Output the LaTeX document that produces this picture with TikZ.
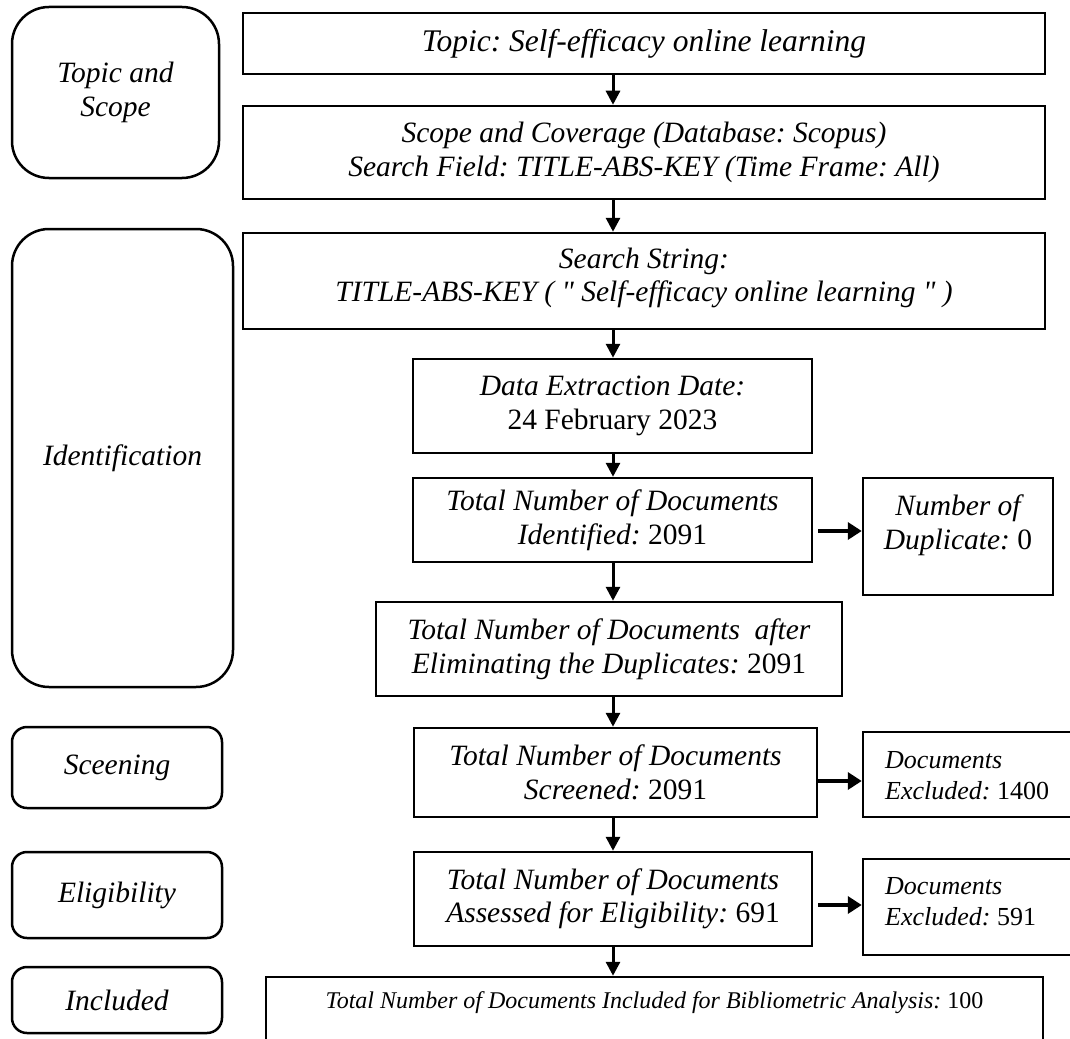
\documentclass[tikz,border=0pt]{standalone}
\usepackage{fontspec}
\setmainfont{Liberation Serif}[Ligatures=TeXOff]
\usetikzlibrary{arrows.meta}
\frenchspacing
\newcommand\myTop{\fontsize{31.5}{34}\selectfont\itshape}
\newcommand\myBig{\fontsize{29.5}{33.5}\selectfont\itshape}
\newcommand\myMid{\fontsize{26}{31}\selectfont\itshape}
\newcommand\mySmall{\fontsize{24}{28}\selectfont\itshape}
\newcommand\up[1]{{\upshape #1}}
\begin{document}
\begin{tikzpicture}[x=1pt,y=-1pt,
  box/.style={draw, line width=2.5pt, inner sep=0pt, align=center, font=\myBig},
  lbl/.style={draw, line width=2.5pt, rounded corners=15pt, inner sep=0pt, align=center, font=\myBig},
  bigcorner/.style={rounded corners=37pt},
  txt/.style={inner sep=0pt, align=center, font=\myBig},
  ltxt/.style={inner sep=0pt, align=left, anchor=west, font=\myMid},
  arr/.style={line width=3pt, -{Triangle[length=14pt,width=14pt]}},
  harr/.style={line width=4.5pt, -{Triangle[length=14pt,width=17pt]}}]
\useasboundingbox (0,0) rectangle (1070,1038);
\fill[white] (0,0) rectangle (1070,1038);
\clip (0,0) rectangle (1070,1038);

% left stage labels
\node[lbl, bigcorner, minimum width=207pt, minimum height=171pt] (L1) at (115.5,92.5) {Topic and\\Scope};
\node[lbl, bigcorner, minimum width=221pt, minimum height=458pt] (L2) at (122.5,458) {Identification};
\node[lbl, minimum width=210pt, minimum height=81pt] (L3) at (117,767.5) {Sceening};
\node[lbl, minimum width=210pt, minimum height=86pt] (L4) at (117,895) {Eligibility};
\node[lbl, minimum width=210pt, minimum height=66pt] (L5) at (117,1000) {Included};

% main flow
\node[box, font=\myTop, minimum width=802pt, minimum height=61pt] (topic) at (644,43.5) {Topic: Self-efficacy online learning};
\node[box, minimum width=802pt, minimum height=93pt] (scope) at (644,152.5) {Scope and Coverage (Database: Scopus)\\Search Field: TITLE-ABS-KEY (Time Frame: All)};
\node[box, minimum width=802pt, minimum height=96pt] (search) at (644,281) {};
\node[txt] (searchtxt) at (644,278) {Search String:\\TITLE-ABS-KEY ( " Self-efficacy online learning " )};
\node[box, minimum width=399pt, minimum height=94pt] (date) at (612.5,406) {Data Extraction Date:\\\up{24 February 2023}};
\node[box, minimum width=399pt, minimum height=84pt] (ident) at (612.5,520) {Total Number of Documents\\Identified: \up{2091}};
\node[box, minimum width=190pt, minimum height=117pt] (dup) at (958,536.5) {};
\node[txt] (duptxt) at (958,525) {Number of\\Duplicate: \up{0}};
\node[box, minimum width=466pt, minimum height=94pt] (after) at (609,649) {Total Number of Documents\ \ after\\Eliminating the Duplicates: \up{2091}};
\node[box, minimum width=403pt, minimum height=89pt] (screen) at (615.5,772.5) {Total Number of Documents\\Screened: \up{2091}};
\node[box, minimum width=217pt, minimum height=85pt] (ex1) at (971.5,774.5) {};
\node[ltxt] (ex1txt) at (885,776) {Documents\\Excluded: \up{1400}};
\node[box, minimum width=398pt, minimum height=94pt] (elig) at (613,899) {Total Number of Documents\\Assessed for Eligibility: \up{691}};
\node[box, minimum width=217pt, minimum height=96pt] (ex2) at (971.5,907) {};
\node[ltxt] (ex2txt) at (885,902) {Documents\\Excluded: \up{591}};
\node[box, minimum width=777pt, minimum height=93pt] (incl) at (654.5,1023.5) {};
\node[txt, font=\mySmall] (incltxt) at (654.5,1003) {Total Number of Documents Included for Bibliometric Analysis: \up{100}};

% connectors
\coordinate (ax) at (613,0);
\coordinate (h1) at (0,531);
\coordinate (h2) at (0,781);
\coordinate (h3) at (0,905);
\draw[arr] (topic.south -| ax) -- (scope.north -| ax);
\draw[arr] (scope.south -| ax) -- (search.north -| ax);
\draw[arr] (search.south -| ax) -- (date.north -| ax);
\draw[arr] (date.south -| ax) -- (ident.north -| ax);
\draw[arr] (ident.south -| ax) -- (after.north -| ax);
\draw[arr] (after.south -| ax) -- (screen.north -| ax);
\draw[arr] (screen.south -| ax) -- (elig.north -| ax);
\draw[arr] (elig.south -| ax) -- (incl.north -| ax);
\draw[harr, shorten <=5pt] (ident.east |- h1) -- (dup.west |- h1);
\draw[harr] (screen.east |- h2) -- (ex1.west |- h2);
\draw[harr, shorten <=5pt] (elig.east |- h3) -- (ex2.west |- h3);
\end{tikzpicture}
\end{document}
